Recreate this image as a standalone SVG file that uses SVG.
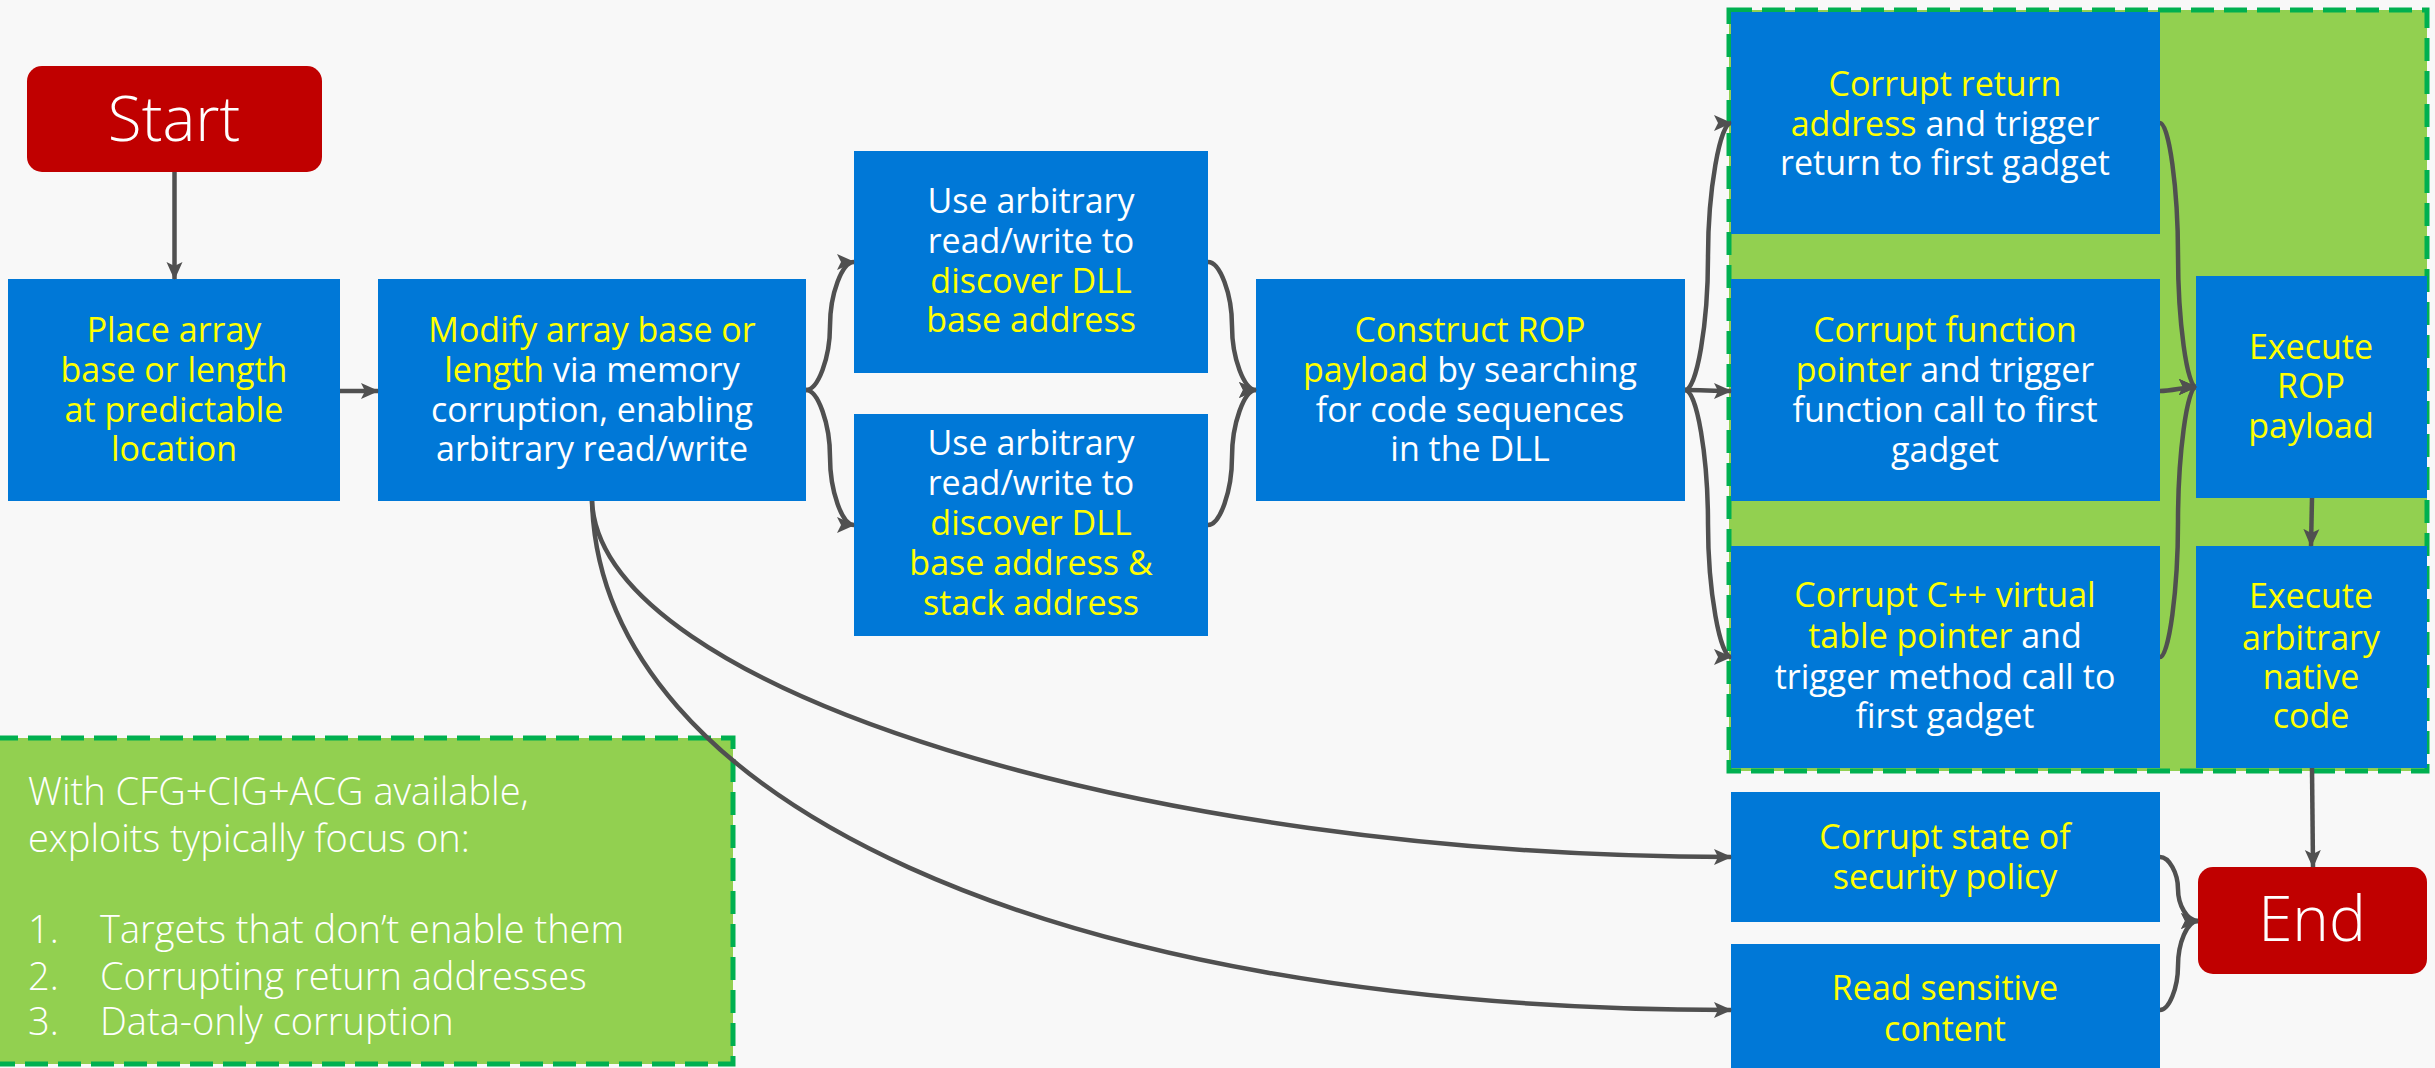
<svg xmlns="http://www.w3.org/2000/svg" width="2435" height="1068" viewBox="0 0 2435 1068">
<style>
.box{fill:#0078D7}
.term{fill:#C00000}
.t{font-family:"Open Sans","Noto Sans","Liberation Sans",sans-serif;font-size:34px;text-anchor:middle;fill:#FFFFFF}
.y{fill:#FFFF00;font-weight:500}
.big{font-size:62px;font-weight:300}
.note{font-family:"Open Sans","Noto Sans","Liberation Sans",sans-serif;font-size:38px;font-weight:300;fill:#FFFFFF}
.conn{fill:none;stroke:#505050;stroke-width:4.5;marker-end:url(#ah)}
.grpfill{fill:#92D050}
.dash{fill:none;stroke:#00B050;stroke-width:5;stroke-dasharray:23 10}
</style>
<defs>
<marker id="ah" markerUnits="userSpaceOnUse" markerWidth="20" markerHeight="18" refX="17" refY="8" orient="auto" viewBox="0 0 20 16">
<path d="M0,0 L18,8 L0,16 L4,8 z" fill="#505050"/>
</marker>
</defs>
<rect width="2435" height="1068" fill="#F8F8F8"/>

<g id="group-rop">
<rect class="grpfill" x="1729" y="10" width="698" height="761"/>
<rect class="dash" x="1729" y="10" width="698" height="761"/>
</g>

<g id="note">
<rect class="grpfill" x="-5" y="738" width="738" height="326"/>
<rect class="dash" x="-5" y="738" width="738" height="326"/>
<text class="note" x="28" y="805">With CFG+CIG+ACG available,</text>
<text class="note" x="28" y="852">exploits typically focus on:</text>
<text class="note" x="28" y="943">1.</text><text class="note" x="100" y="943">Targets that don’t enable them</text>
<text class="note" x="28" y="990">2.</text><text class="note" x="100" y="990">Corrupting return addresses</text>
<text class="note" x="28" y="1035">3.</text><text class="note" x="100" y="1035">Data-only corruption</text>
</g>

<g id="start">
<rect class="term" x="27" y="66" width="295" height="106" rx="15"/>
<text class="t big" x="174" y="141">Start</text>
</g>

<g id="place">
<rect class="box" x="8" y="279" width="332" height="222"/>
<text class="t y" x="174" y="342">Place array</text>
<text class="t y" x="174" y="382">base or length</text>
<text class="t y" x="174" y="422">at predictable</text>
<text class="t y" x="174" y="461">location</text>
</g>

<g id="modify">
<rect class="box" x="378" y="279" width="428" height="222"/>
<text class="t y" x="592" y="342">Modify array base or</text>
<text class="t" x="592" y="382"><tspan class="y">length</tspan> via memory</text>
<text class="t" x="592" y="422">corruption, enabling</text>
<text class="t" x="592" y="461">arbitrary read/write</text>
</g>

<g id="use1">
<rect class="box" x="854" y="151" width="354" height="222"/>
<text class="t" x="1031" y="213">Use arbitrary</text>
<text class="t" x="1031" y="253">read/write to</text>
<text class="t y" x="1031" y="293">discover DLL</text>
<text class="t y" x="1031" y="332">base address</text>
</g>

<g id="use2">
<rect class="box" x="854" y="414" width="354" height="222"/>
<text class="t" x="1031" y="455">Use arbitrary</text>
<text class="t" x="1031" y="495">read/write to</text>
<text class="t y" x="1031" y="535">discover DLL</text>
<text class="t y" x="1031" y="575">base address &amp;</text>
<text class="t y" x="1031" y="615">stack address</text>
</g>

<g id="construct">
<rect class="box" x="1256" y="279" width="429" height="222"/>
<text class="t y" x="1470" y="342">Construct ROP</text>
<text class="t" x="1470" y="382"><tspan class="y">payload</tspan> by searching</text>
<text class="t" x="1470" y="422">for code sequences</text>
<text class="t" x="1470" y="461">in the DLL</text>
</g>

<g id="corrupt-return">
<rect class="box" x="1731" y="12" width="429" height="222"/>
<text class="t y" x="1945" y="96">Corrupt return</text>
<text class="t" x="1945" y="136"><tspan class="y">address</tspan> and trigger</text>
<text class="t" x="1945" y="175">return to first gadget</text>
</g>

<g id="corrupt-function">
<rect class="box" x="1731" y="279" width="429" height="222"/>
<text class="t y" x="1945" y="342">Corrupt function</text>
<text class="t" x="1945" y="382"><tspan class="y">pointer</tspan> and trigger</text>
<text class="t" x="1945" y="422">function call to first</text>
<text class="t" x="1945" y="462">gadget</text>
</g>

<g id="corrupt-vtable">
<rect class="box" x="1731" y="546" width="429" height="222"/>
<text class="t y" x="1945" y="607">Corrupt C++ virtual</text>
<text class="t" x="1945" y="648"><tspan class="y">table pointer</tspan> and</text>
<text class="t" x="1945" y="689">trigger method call to</text>
<text class="t" x="1945" y="728">first gadget</text>
</g>

<g id="exec-rop">
<rect class="box" x="2196" y="276" width="231" height="222"/>
<text class="t y" x="2311" y="359">Execute</text>
<text class="t y" x="2311" y="398">ROP</text>
<text class="t y" x="2311" y="438">payload</text>
</g>

<g id="exec-native">
<rect class="box" x="2196" y="546" width="231" height="222"/>
<text class="t y" x="2311" y="608">Execute</text>
<text class="t y" x="2311" y="650">arbitrary</text>
<text class="t y" x="2311" y="689">native</text>
<text class="t y" x="2311" y="728">code</text>
</g>

<g id="corrupt-state">
<rect class="box" x="1731" y="792" width="429" height="130"/>
<text class="t y" x="1945" y="849">Corrupt state of</text>
<text class="t y" x="1945" y="889">security policy</text>
</g>

<g id="read-sensitive">
<rect class="box" x="1731" y="944" width="429" height="134"/>
<text class="t y" x="1945" y="1000">Read sensitive</text>
<text class="t y" x="1945" y="1041">content</text>
</g>

<g id="end">
<rect class="term" x="2198" y="867" width="229" height="107" rx="15"/>
<text class="t big" x="2312" y="941">End</text>
</g>

<g id="connectors">
<path class="conn" d="M174.5,172 L174.5,279"/>
<path class="conn" d="M340,391 L378,391"/>
<path class="conn" d="M806,390 C818,390 830,358 830,326 C830,294 842,262 854,262"/>
<path class="conn" d="M806,390 C818,390 830,424 830,457 C830,491 842,525 854,525"/>
<path class="conn" d="M1208,262 C1220,262 1232,294 1232,326 C1232,358 1244,390 1256,390"/>
<path class="conn" d="M1208,525 C1220,525 1232,491 1232,457 C1232,424 1244,390 1256,390"/>
<path class="conn" d="M1685,390 C1697,390 1708,323 1708,257 C1708,190 1720,123 1731,123"/>
<path class="conn" d="M1685,390 C1700,390 1715,391 1731,391"/>
<path class="conn" d="M1685,390 C1697,390 1708,457 1708,524 C1708,591 1720,657 1731,657"/>
<path class="conn" d="M2160,123 C2169,123 2178,189 2178,255 C2178,321 2187,387 2196,387"/>
<path class="conn" d="M2160,391 C2172,391 2184,387 2196,387"/>
<path class="conn" d="M2160,657 C2169,657 2178,589 2178,522 C2178,455 2187,387 2196,387"/>
<path class="conn" d="M2312,498 L2311,546"/>
<path class="conn" d="M2312,768 L2313,867"/>
<path class="conn" d="M2160,857 C2169,857 2178,873 2178,889 C2178,905 2187,921 2198,921"/>
<path class="conn" d="M2160,1010 C2169,1010 2178,988 2178,966 C2178,943 2187,921 2198,921"/>
<path class="conn" d="M592,501 C600,690 1150,857 1731,857"/>
<path class="conn" d="M592,501 C600,800 1050,1010 1731,1010"/>
</g>
</svg>
